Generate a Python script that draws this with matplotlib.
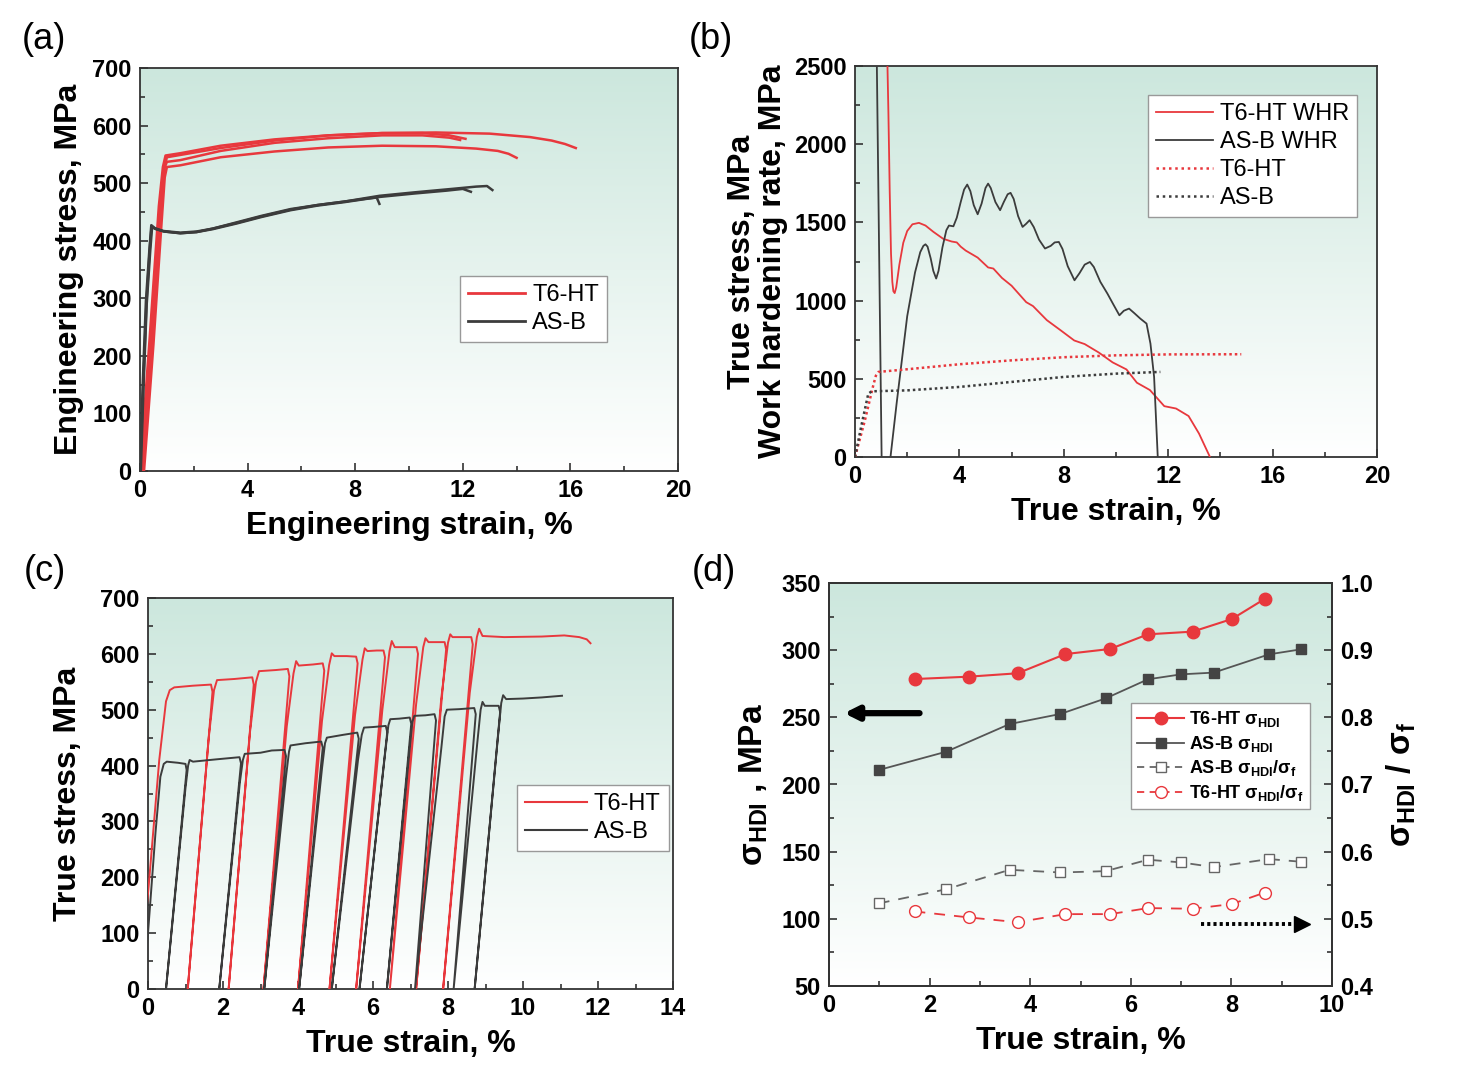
import numpy as np
import matplotlib
matplotlib.use('Agg')
import matplotlib.pyplot as plt
from matplotlib.colors import LinearSegmentedColormap
from matplotlib.ticker import MultipleLocator, FormatStrFormatter
from matplotlib.lines import Line2D

plt.rcParams['font.family'] = ['Liberation Sans', 'DejaVu Sans']
plt.rcParams['font.weight'] = 'bold'
plt.rcParams['axes.labelweight'] = 'bold'
plt.rcParams['mathtext.default'] = 'regular'

RED = '#e8383d'
DARK = '#3c3c3c'

# ---------------- (a) engineering stress-strain ----------------
a_t6_1_strain = [0.0, 0.35, 0.7, 0.85, 0.95, 1.5, 3.0, 5.0, 7.0, 9.0, 10.5, 11.5, 12.1]
a_t6_1_stress = [0, 225, 460, 528, 548, 552, 565, 576, 583, 587, 587, 583, 577]
a_t6_2_strain = [0.1, 0.45, 0.8, 0.92, 1.0, 1.5, 3.0, 5.0, 7.0, 9.0, 11.0, 13.0, 14.5, 15.3, 15.8, 16.2]
a_t6_2_stress = [0, 230, 470, 530, 545, 549, 561, 574, 583, 587, 588, 586, 580, 574, 568, 561]
a_t6_3_strain = [0.15, 0.5, 0.8, 0.92, 1.0, 1.5, 3.0, 5.0, 7.0, 9.0, 11.0, 12.5, 13.3, 13.7, 14.0]
a_t6_3_stress = [0, 220, 430, 510, 528, 531, 545, 555, 562, 565, 564, 560, 556, 551, 544]
a_t6_4_strain = [0.05, 0.4, 0.75, 0.9, 1.0, 1.5, 3.0, 5.0, 7.0, 9.0, 10.5, 11.5, 11.9]
a_t6_4_stress = [0, 225, 460, 525, 537, 540, 556, 570, 578, 583, 583, 579, 575]

a_asb_1_strain = [0.0, 0.1, 0.22, 0.35, 0.42, 0.55, 0.85, 1.5, 2.1, 2.7, 3.6, 4.5, 5.6, 6.6, 7.6, 8.9, 10.2, 11.6, 12.5, 12.9, 13.1]
a_asb_1_stress = [0, 150, 295, 385, 427, 422, 417, 414, 416, 421, 432, 443, 455, 462, 468, 478, 484, 490, 494, 495, 488]
a_asb_2_strain = [0.03, 0.13, 0.25, 0.38, 0.45, 0.6, 0.9, 1.5, 2.1, 2.7, 3.6, 4.5, 5.6, 6.6, 7.6, 8.9, 10.2, 11.4, 12.0, 12.3]
a_asb_2_stress = [0, 145, 290, 382, 424, 420, 416, 413, 415, 420, 430, 441, 453, 461, 467, 476, 482, 487, 490, 485]
a_asb_3_strain = [0.0, 0.12, 0.24, 0.36, 0.43, 0.55, 0.9, 1.5, 2.1, 2.7, 3.6, 4.5, 5.6, 6.6, 7.6, 8.4, 8.8, 8.9]
a_asb_3_stress = [0, 148, 292, 384, 425, 421, 416, 413, 415, 421, 431, 442, 454, 462, 468, 473, 475, 464]

# ---------------- (b) work hardening rate ----------------
b_t6_whr_strain = [1.22, 1.28, 1.33, 1.38, 1.43, 1.47, 1.52, 1.58, 1.7, 1.85, 2.0, 2.2, 2.45, 2.7, 3.0,
                   3.38, 3.7, 3.9, 4.05, 4.24, 4.7, 5.1, 5.3, 5.63, 6.0, 6.56, 6.82, 7.35, 7.88, 8.4,
                   8.8, 9.34, 9.87, 10.4, 10.8, 11.3, 11.85, 12.3, 12.78, 13.18, 13.6]
b_t6_whr_rate = [2700, 2200, 1700, 1300, 1120, 1060, 1048, 1085, 1230, 1370, 1445, 1488, 1497, 1480, 1440,
                 1395, 1378, 1372, 1345, 1320, 1275, 1212, 1205, 1145, 1095, 990, 965, 875, 810, 745,
                 722, 668, 605, 560, 475, 428, 325, 310, 262, 150, 0]
b_asb_whr_strain = [0.83, 1.02, 1.1, 1.3, 1.36, 1.6, 2.0, 2.3, 2.5, 2.62, 2.7, 2.78, 2.9, 3.0, 3.11,
                    3.2, 3.35, 3.5, 3.6, 3.77, 3.9, 4.05, 4.18, 4.3, 4.42, 4.55, 4.7, 4.85, 5.0, 5.1,
                    5.2, 5.38, 5.56, 5.7, 5.85, 5.96, 6.08, 6.25, 6.42, 6.55, 6.69, 6.85, 7.05, 7.28,
                    7.5, 7.65, 7.81, 7.95, 8.15, 8.41, 8.6, 8.8, 9.0, 9.15, 9.4, 9.67, 9.9, 10.13,
                    10.3, 10.5, 10.7, 10.93, 11.17, 11.32, 11.46, 11.6]
b_asb_whr_rate = [2600, 0, -300, -300, 0, 350, 900, 1180, 1310, 1350, 1360, 1345, 1270, 1190, 1141,
                  1190, 1340, 1450, 1480, 1475, 1530, 1630, 1710, 1742, 1700, 1610, 1552, 1620, 1720, 1748,
                  1720, 1630, 1578, 1630, 1680, 1689, 1650, 1540, 1471, 1490, 1514, 1470, 1390, 1333,
                  1350, 1372, 1375, 1330, 1220, 1130, 1175, 1230, 1247, 1215, 1120, 1045, 975, 906,
                  935, 949, 920, 885, 853, 725, 512, 0]
b_t6_true_strain = [0.0, 0.38, 0.7, 0.8, 0.9, 2.0, 4.0, 6.0, 8.0, 10.0, 12.0, 14.8]
b_t6_true_stress = [0, 235, 458, 520, 544, 561, 593, 618, 638, 650, 656, 657]
b_asb_true_strain = [0.0, 0.26, 0.51, 0.64, 2.0, 4.0, 6.0, 8.0, 10.0, 11.7]
b_asb_true_stress = [0, 213, 405, 420, 426, 448, 480, 512, 533, 544]

# ---------------- (c) loading-unloading ----------------
c_t6_strain = [-0.25, 0.0, 0.3, 0.48, 0.58, 0.7, 1.2, 1.68, 1.72, 1.06,
               1.62, 1.76, 1.84, 2.3, 2.78, 2.82, 2.15,
               2.72, 2.88, 2.96, 3.4, 3.73, 3.77, 3.08,
               3.7, 3.88, 3.95, 4.02, 4.4, 4.66, 4.7, 4.0,
               4.64, 4.83, 4.9, 4.97, 5.3, 5.55, 5.59, 4.84,
               5.52, 5.72, 5.78, 5.85, 6.1, 6.28, 6.32, 5.55,
               6.25, 6.44, 6.5, 6.58, 6.9, 7.16, 7.2, 6.45,
               7.15, 7.34, 7.4, 7.48, 7.7, 7.91, 7.95, 7.15,
               7.82, 8.0, 8.06, 8.12, 8.4, 8.62, 8.66, 7.87,
               8.58, 8.77, 8.83, 8.92, 9.5, 10.5, 11.1, 11.5, 11.7, 11.8]
c_t6_stress = [0, 170, 410, 515, 535, 540, 543, 545, 532, 0,
               450, 535, 553, 555, 558, 545, 0,
               460, 550, 569, 571, 573, 560, 0,
               470, 565, 587, 579, 581, 583, 570, 0,
               480, 580, 601, 596, 596, 595, 583, 0,
               490, 590, 610, 605, 606, 606, 594, 0,
               500, 605, 623, 612, 612, 612, 600, 0,
               510, 612, 628, 621, 621, 621, 608, 0,
               520, 620, 635, 630, 630, 630, 617, 0,
               530, 630, 645, 632, 630, 631, 633, 630, 626, 619]
c_asb_strain = [-0.15, 0.0, 0.2, 0.33, 0.42, 0.5, 0.8, 1.0, 1.03, 0.48,
                1.0, 1.07, 1.11, 1.2, 1.8, 2.44, 2.48, 1.9,
                2.45, 2.53, 2.58, 3.0, 3.3, 3.64, 3.68, 3.1,
                3.68, 3.76, 3.8, 4.2, 4.62, 4.66, 4.03,
                4.64, 4.72, 4.77, 5.2, 5.58, 5.62, 4.9,
                5.6, 5.7, 5.76, 6.0, 6.34, 6.38, 5.64,
                6.32, 6.41, 6.46, 6.7, 6.98, 7.02, 6.37,
                6.97, 7.05, 7.1, 7.4, 7.64, 7.68, 7.12,
                7.82, 7.91, 7.97, 8.3, 8.7, 8.74, 8.15,
                8.78, 8.87, 8.92, 8.98, 9.35, 9.39, 8.71,
                9.33, 9.42, 9.47, 9.55, 10.0, 10.5, 11.04]
c_asb_stress = [0, 100, 280, 380, 403, 407, 405, 403, 392, 0,
                360, 400, 410, 407, 411, 415, 404, 0,
                370, 410, 421, 423, 427, 428, 417, 0,
                380, 425, 436, 440, 443, 432, 0,
                395, 440, 450, 455, 459, 448, 0,
                410, 455, 468, 469, 471, 460, 0,
                420, 472, 483, 484, 486, 475, 0,
                425, 478, 489, 490, 492, 481, 0,
                430, 488, 500, 501, 503, 492, 0,
                440, 500, 514, 507, 507, 496, 0,
                450, 512, 526, 519, 520, 522, 525]

# ---------------- (d) HDI stress ----------------
d_t6_strain = [1.70, 2.79, 3.75, 4.70, 5.59, 6.34, 7.23, 8.01, 8.66]
d_t6_hdi = [278.5, 280.3, 282.8, 297.1, 300.9, 311.8, 313.8, 323.2, 338.1]
d_t6_ratio = [0.511, 0.502, 0.495, 0.507, 0.507, 0.516, 0.515, 0.522, 0.539]
d_asb_strain = [0.99, 2.33, 3.59, 4.60, 5.50, 6.34, 7.00, 7.65, 8.75, 9.38]
d_asb_hdi = [210.8, 224.4, 245.0, 252.5, 264.1, 278.3, 282.0, 283.3, 296.9, 300.6]
d_asb_ratio = [0.523, 0.544, 0.573, 0.569, 0.571, 0.588, 0.584, 0.577, 0.589, 0.585]

# ---------------- figure ----------------
W, H = 1475, 1079
fig = plt.figure(figsize=(W / 100, H / 100), dpi=100)


def rect(l, t, r, b):
    return [l / W, 1 - b / H, (r - l) / W, (b - t) / H]


ax_a = fig.add_axes(rect(140, 68, 678, 471))
ax_b = fig.add_axes(rect(855, 66, 1377, 457))
ax_c = fig.add_axes(rect(148, 598, 673, 989))
ax_d = fig.add_axes(rect(829, 583, 1332, 986))

cmap = LinearSegmentedColormap.from_list('bg', ['#ffffff', '#e6f3ee', '#cce7dd'])
grad = np.linspace(0, 1, 256).reshape(-1, 1)
TICK = 17


def style(ax, xlim, ylim, xmaj, xmin, ymaj, ymin):
    ax.imshow(grad, origin='lower', cmap=cmap, extent=[0, 1, 0, 1], transform=ax.transAxes,
              aspect='auto', zorder=0, interpolation='bilinear')
    ax.set_xlim(*xlim)
    ax.set_ylim(*ylim)
    ax.xaxis.set_major_locator(MultipleLocator(xmaj))
    ax.xaxis.set_minor_locator(MultipleLocator(xmin))
    ax.yaxis.set_major_locator(MultipleLocator(ymaj))
    ax.yaxis.set_minor_locator(MultipleLocator(ymin))
    ax.tick_params(which='both', direction='in', top=False, right=False, width=1.2,
                   labelsize=TICK, pad=6, color='#333333')
    ax.tick_params(which='major', length=6)
    ax.tick_params(which='minor', length=3.5)
    for s in ax.spines.values():
        s.set_linewidth(1.3)
        s.set_color('#333333')


LEG = dict(frameon=True, fancybox=False, edgecolor='#999999', framealpha=1, facecolor='white',
           borderpad=0.35, labelspacing=0.25, handletextpad=0.3, borderaxespad=0)
LBL = dict(fontsize=23, fontweight='bold')

# (a)
style(ax_a, (0, 20), (0, 700), 4, 2, 100, 50)
for s_, t_ in [(a_t6_1_strain, a_t6_1_stress), (a_t6_2_strain, a_t6_2_stress),
               (a_t6_3_strain, a_t6_3_stress), (a_t6_4_strain, a_t6_4_stress)]:
    ax_a.plot(s_, t_, color=RED, lw=1.8, zorder=3)
for s_, t_ in [(a_asb_1_strain, a_asb_1_stress), (a_asb_2_strain, a_asb_2_stress),
               (a_asb_3_strain, a_asb_3_stress)]:
    ax_a.plot(s_, t_, color=DARK, lw=1.8, zorder=3)
ax_a.set_xlabel('Engineering strain, %', labelpad=6, **LBL)
ax_a.set_ylabel('Engineering stress, MPa', labelpad=6, **LBL)
ax_a.legend([Line2D([], [], color=RED, lw=2), Line2D([], [], color=DARK, lw=2)], ['T6-HT', 'AS-B'],
            loc='upper left', bbox_to_anchor=(0.595, 0.484), prop={'size': 17, 'weight': 'normal'},
            handlelength=2.4, **LEG)

# (b)
style(ax_b, (0, 20), (0, 2500), 4, 2, 500, 250)
ax_b.plot(b_t6_whr_strain, b_t6_whr_rate, color=RED, lw=1.3, zorder=3)
ax_b.plot(b_asb_whr_strain, b_asb_whr_rate, color=DARK, lw=1.3, zorder=3)
ax_b.plot(b_t6_true_strain, b_t6_true_stress, color=RED, lw=1.8, ls=(0, (1, 1.2)), zorder=3)
ax_b.plot(b_asb_true_strain, b_asb_true_stress, color=DARK, lw=1.8, ls=(0, (1, 1.2)), zorder=3)
ax_b.set_xlabel('True strain, %', labelpad=6, **LBL)
ax_b.set_ylabel('True stress, MPa\nWork hardening rate, MPa', labelpad=4, linespacing=1.05, **LBL)
ax_b.legend([Line2D([], [], color=RED, lw=1.3), Line2D([], [], color=DARK, lw=1.3),
             Line2D([], [], color=RED, lw=1.8, ls=(0, (1, 1.5))),
             Line2D([], [], color=DARK, lw=1.8, ls=(0, (1, 1.5)))],
            ['T6-HT WHR', 'AS-B WHR', 'T6-HT', 'AS-B'],
            loc='upper left', bbox_to_anchor=(0.561, 0.926), prop={'size': 17, 'weight': 'normal'},
            handlelength=2.4, **LEG)

# (c)
style(ax_c, (0, 14), (0, 700), 2, 1, 100, 50)
ax_c.plot(c_t6_strain, c_t6_stress, color=RED, lw=1.4, zorder=3)
ax_c.plot(c_asb_strain, c_asb_stress, color=DARK, lw=1.4, zorder=3)
ax_c.set_xlabel('True strain, %', labelpad=6, **LBL)
ax_c.set_ylabel('True stress, MPa', labelpad=12, **LBL)
ax_c.legend([Line2D([], [], color=RED, lw=1.5), Line2D([], [], color=DARK, lw=1.5)], ['T6-HT', 'AS-B'],
            loc='upper left', bbox_to_anchor=(0.703, 0.522), prop={'size': 17, 'weight': 'normal'},
            handlelength=2.6, **LEG)

# (d)
style(ax_d, (0, 10), (50, 350), 2, 1, 50, 25)
ax_d2 = ax_d.twinx()
ax_d2.set_ylim(0.4, 1.0)
ax_d2.yaxis.set_major_locator(MultipleLocator(0.1))
ax_d2.yaxis.set_minor_locator(MultipleLocator(0.05))
ax_d2.yaxis.set_major_formatter(FormatStrFormatter('%.1f'))
ax_d2.tick_params(which='both', direction='in', width=1.2, labelsize=TICK, pad=6, color='#333333')
ax_d2.tick_params(which='major', length=6)
ax_d2.tick_params(which='minor', length=3.5)
for s in ax_d2.spines.values():
    s.set_linewidth(1.3)
    s.set_color('#333333')

ax_d.plot(d_t6_strain, d_t6_hdi, color=RED, lw=1.5, marker='o', ms=9, mfc=RED, mec=RED, zorder=4)
ax_d.plot(d_asb_strain, d_asb_hdi, color='#555555', lw=1.3, marker='s', ms=7.5, mfc='#444444',
          mec='#444444', zorder=4)
ax_d2.plot(d_asb_strain, d_asb_ratio, color='#666666', lw=1.3, ls=(0, (6, 5)), marker='s', ms=7.5,
           mfc='white', mec='#666666', mew=1.0, zorder=4)
ax_d2.plot(d_t6_strain, d_t6_ratio, color=RED, lw=1.3, ls=(0, (6, 5)), marker='o', ms=8.5,
           mfc='white', mec=RED, mew=1.0, zorder=4)

ax_d.set_xlabel('True strain, %', labelpad=6, **LBL)
ax_d.set_ylabel('σ$_{HDI}$ , MPa', fontsize=24, fontweight='bold', labelpad=8)
ax_d2.set_ylabel('σ$_{HDI}$ / σ$_f$', fontsize=24, fontweight='bold', rotation=90, labelpad=8)

# arrows
ax_d2.annotate('', xy=(0.03, 0.677), xytext=(0.18, 0.677), xycoords='axes fraction',
               textcoords='axes fraction',
               arrowprops=dict(arrowstyle='-|>,head_length=0.8,head_width=0.4', lw=4.5, color='black',
                               shrinkA=0, shrinkB=0))
ax_d2.plot([0.74, 0.925], [0.154, 0.154], transform=ax_d2.transAxes, color='black', lw=2.8,
           ls=(0, (0.8, 0.8)), zorder=5)
ax_d2.plot([0.94], [0.154], transform=ax_d2.transAxes, marker='>', ms=11, color='black', zorder=5)

d_handles = [Line2D([], [], color=RED, lw=1.5, marker='o', ms=9, mfc=RED, mec=RED),
             Line2D([], [], color='#555555', lw=1.3, marker='s', ms=7.5, mfc='#444444', mec='#444444'),
             Line2D([], [], color='#666666', lw=1.3, ls=(0, (4, 3)), marker='s', ms=7.5, mfc='white',
                    mec='#666666'),
             Line2D([], [], color=RED, lw=1.3, ls=(0, (4, 3)), marker='o', ms=8.5, mfc='white', mec=RED)]
d_labels = ['T6-HT σ$_{HDI}$', 'AS-B σ$_{HDI}$', 'AS-B σ$_{HDI}$/σ$_f$', 'T6-HT σ$_{HDI}$/σ$_f$']
ax_d2.legend(d_handles, d_labels, loc='upper left', bbox_to_anchor=(0.6, 0.702),
             prop={'size': 13, 'weight': 'bold'}, handlelength=2.6, **LEG)

# panel letters
for x, y, t in [(0.015, 0.963, '(a)'), (0.467, 0.963, '(b)'), (0.016, 0.47, '(c)'), (0.469, 0.47, '(d)')]:
    fig.text(x, y, t, fontsize=26, fontweight='normal', va='center', ha='left')

fig.savefig('out.png', dpi=100)
